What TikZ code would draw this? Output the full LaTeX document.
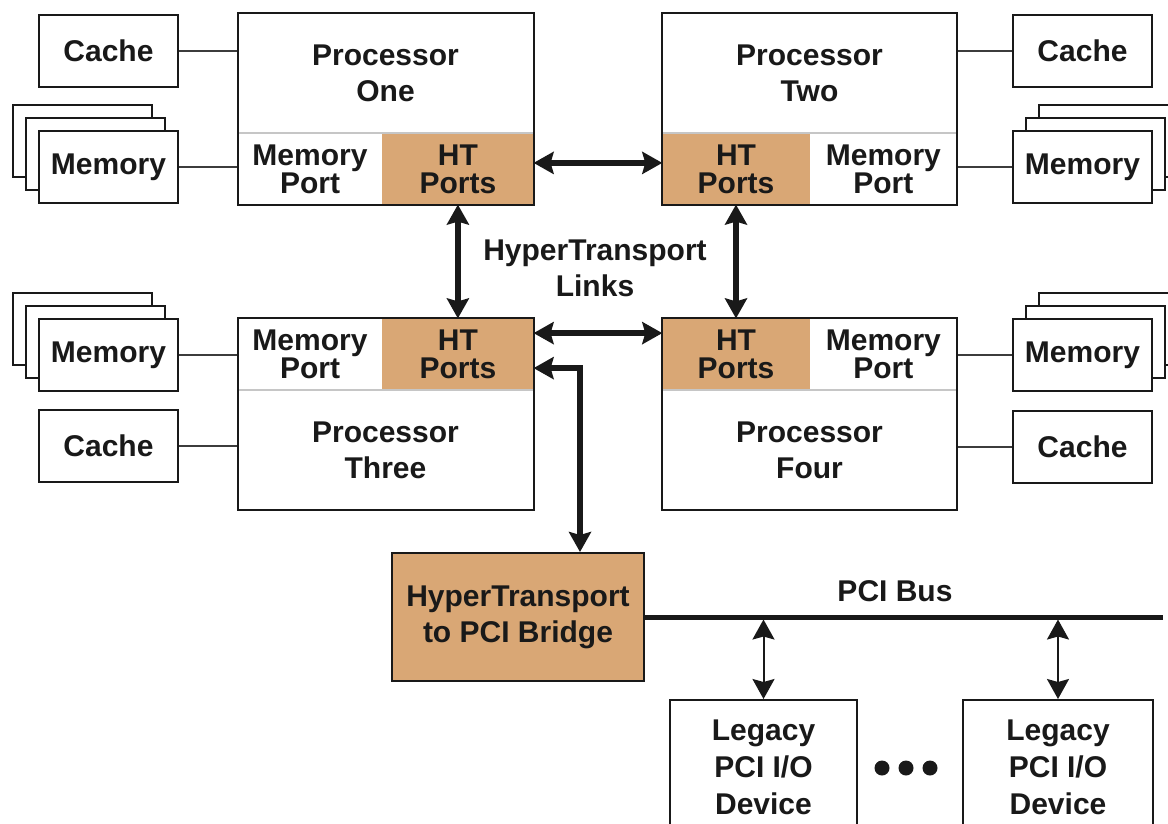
\documentclass[tikz,border=0pt]{standalone}
\usepackage{fontspec}
\setmainfont{Liberation Sans}
\usetikzlibrary{positioning,arrows.meta,fit}
\definecolor{htbrown}{RGB}{217,167,117}
\definecolor{ink}{RGB}{25,25,25}

\begin{document}
\begin{tikzpicture}[x=1pt, y=-1pt,
                    every node/.style={font=\fontsize{30}{36}\selectfont\bfseries, text=ink, align=center, inner sep=0pt},
                    box/.style={draw=ink, line width=2pt, fill=white, minimum width=139pt, minimum height=72pt},
                    area/.style={minimum width=295pt, minimum height=120pt},
                    port/.style={minimum height=71pt, font=\fontsize{30}{28}\selectfont\bfseries},
                    htport/.style={port, fill=htbrown},
                    cpu/.style={draw=ink, line width=2pt},
                    divider/.style={draw=gray!45, line width=2pt},
                    wire/.style={draw=ink!85, line width=2pt},
                    >={Stealth[length=20pt,width=22pt,inset=3pt]},
                    htlink/.style={draw=ink, line width=5.5pt, <->},
                    pcilink/.style={draw=ink, line width=2pt, shorten >=2.5pt, {Stealth[length=20pt,width=22pt,inset=3pt]}-{Stealth[length=20pt,width=22pt,inset=3pt]}},
                    bus/.style={draw=ink, line width=5pt},
                    bridge/.style={draw=ink, line width=2pt, fill=htbrown, minimum width=252pt, minimum height=128pt},
                    dev/.style={draw=ink, line width=2pt, minimum height=134pt, font=\fontsize{30}{37}\selectfont\bfseries}]

\fill[white] (0,0) rectangle (1168,823);
\useasboundingbox (0,0) rectangle (1168,823);

% caches and memories, left side
\node[box] (C1) at (108.5,51) {Cache};
\node[box] (M1c) at (82.5,141) {};
\node[box] (M1b) at (95.5,154) {};
\node[box] (M1) at (108.5,167) {Memory};
\node[box] (M3c) at (82.5,329) {};
\node[box] (M3b) at (95.5,342) {};
\node[box] (M3) at (108.5,355) {Memory};
\node[box] (C3) at (108.5,446) {Cache};

% caches and memories, right side
\node[box] (C2) at (1082.5,51) {Cache};
\node[box] (M2c) at (1108.5,141) {};
\node[box] (M2b) at (1095.5,154) {};
\node[box] (M2) at (1082.5,167) {Memory};
\node[box] (M4c) at (1108.5,329) {};
\node[box] (M4b) at (1095.5,342) {};
\node[box] (M4) at (1082.5,355) {Memory};
\node[box] (C4) at (1082.5,447) {Cache};

% processors
\node[area] (T1) at (385.5,73) {Processor\\One};
\node[port, minimum width=144pt] (MP1) [below right=0pt and 0pt of T1.south west] {Memory\\Port};
\node[htport, minimum width=151pt] (HT1) [right=0pt of MP1] {HT\\Ports};
\draw[divider] (MP1.north west) -- (HT1.north east);
\node[cpu, fit=(T1)(MP1)(HT1)] (P1) {};

\node[area, minimum width=294pt] (T2) at (809.5,73) {Processor\\Two};
\node[htport, minimum width=147pt] (HT2) [below right=0pt and 0pt of T2.south west] {HT\\Ports};
\node[port, minimum width=147pt] (MP2) [right=0pt of HT2] {Memory\\Port};
\draw[divider] (HT2.north west) -- (MP2.north east);
\node[cpu, fit=(T2)(HT2)(MP2)] (P2) {};

\node[area] (T3) at (385.5,450) {Processor\\Three};
\node[port, minimum width=144pt] (MP3) [above right=0pt and 0pt of T3.north west] {Memory\\Port};
\node[htport, minimum width=151pt] (HT3) [right=0pt of MP3] {HT\\Ports};
\draw[divider] (MP3.south west) -- (HT3.south east);
\node[cpu, fit=(T3)(MP3)(HT3)] (P3) {};

\node[area, minimum width=294pt] (T4) at (809.5,450) {Processor\\Four};
\node[htport, minimum width=147pt] (HT4) [above right=0pt and 0pt of T4.north west] {HT\\Ports};
\node[port, minimum width=147pt] (MP4) [right=0pt of HT4] {Memory\\Port};
\draw[divider] (HT4.south west) -- (MP4.south east);
\node[cpu, fit=(T4)(HT4)(MP4)] (P4) {};

\node (Links) at (595,268) {HyperTransport\\Links};

% bridge, bus and devices
\node[bridge] (B) at (518,617) {HyperTransport\\to PCI Bridge};
\coordinate (BusEnd) at (1163,617);
\node (BusLabel) at (895,591) {PCI Bus};
\node[dev, minimum width=187pt] (D1) at (763.5,767) {Legacy\\PCI I/O\\Device};
\node[dev, minimum width=190pt] (D2) at (1058,767) {Legacy\\PCI I/O\\Device};
\foreach \x in {882,906,930}
    \fill[ink] (\x,768) circle (7.5pt);

 \path
    (C1) edge[wire] (C1 -| P1.west)
    (M1) edge[wire] (M1 -| P1.west)
    (C2) edge[wire] (C2 -| P2.east)
    (M2) edge[wire] (M2 -| P2.east)
    (M3) edge[wire] (M3 -| P3.west)
    (C3) edge[wire] (C3 -| P3.west)
    (M4) edge[wire] (M4 -| P4.east)
    (C4) edge[wire] (C4 -| P4.east);

 \path
    ([yshift=6pt]HT1.east) edge[htlink] ([yshift=6pt]HT2.west)
    ([yshift=21pt]HT3.east) edge[htlink] ([yshift=21pt]HT4.west)
    (HT1) edge[htlink] (HT3)
    (HT2) edge[htlink] (HT4);
\draw[htlink] ([yshift=-14pt]HT3.east) -| ([xshift=62pt]B.north);

\draw[bus] (B.east) -- (BusEnd);
 \path
    (D1.north) edge[pcilink] (D1.north |- BusEnd)
    (D2.north) edge[pcilink] (D2.north |- BusEnd);
\end{tikzpicture}
\end{document}
